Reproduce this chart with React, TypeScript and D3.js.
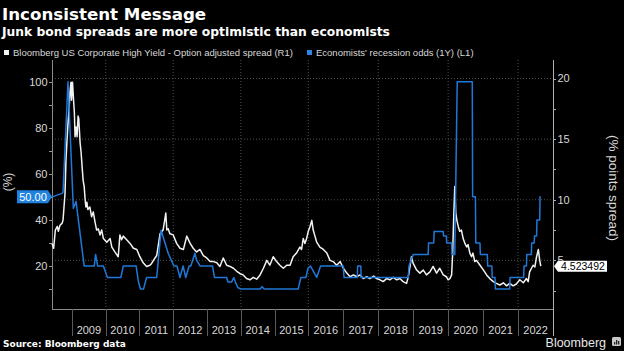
import { useRef, useEffect } from "react";
import { select, scaleLinear, scaleTime, line, range } from "d3";

const WIDTH = 624;
const HEIGHT = 351;
const plot = { left: 52, right: 553, top: 60, bottom: 309 };
const WHITE = "#f2f2f2";
const BLUE = "#1f78d8";
const TEXT = "#d8d8d8";
const FONT = "Liberation Sans, Arial, sans-serif";
const BOLD_FONT = "DejaVu Sans, sans-serif";

const title = "Inconsistent Message";
const subtitle = "Junk bond spreads are more optimistic than economists";
const source = "Source: Bloomberg data";
const seriesNames = [
  "Bloomberg US Corporate High Yield - Option adjusted spread (R1)",
  "Economists' recession odds (1Y) (L1)",
];
const leftLabel = "(%)";
const rightLabel = "(% points spread)";
const years = range(2009, 2023);
const leftTicks = [20, 40, 60, 80, 100];
const leftMinor = range(10, 101, 10);
const rightTicks = [5, 10, 15, 20];
const rightMinor = range(2.5, 20.1, 2.5);
const lastOdds = 50;
const lastSpread = 4.523492;

// HY option adjusted spread, [decimal year, % points]
const spread: [number, number][] = [
  [2008.40, 6.4], [2008.45, 6.0], [2008.50, 7.5], [2008.56, 7.8], [2008.59, 7.4], [2008.64, 7.9],
  [2008.70, 8.05], [2008.73, 8.3], [2008.76, 9.4], [2008.79, 10.5], [2008.82, 13.3], [2008.85, 14.9],
  [2008.88, 16.3], [2008.91, 17.4], [2008.94, 18.9], [2008.97, 19.7], [2008.985, 18.2], [2009.015, 19.7],
  [2009.04, 18.5], [2009.07, 17.2], [2009.09, 15.2], [2009.12, 16.0], [2009.15, 15.2], [2009.18, 16.9],
  [2009.20, 16.7], [2009.24, 14.7], [2009.27, 13.9], [2009.30, 12.7], [2009.33, 11.6], [2009.36, 11.1],
  [2009.39, 10.0], [2009.41, 9.4], [2009.44, 9.8], [2009.47, 9.2], [2009.53, 9.4], [2009.58, 8.6],
  [2009.63, 9.0], [2009.68, 8.2], [2009.73, 7.5], [2009.78, 7.6], [2009.83, 7.1], [2009.88, 7.5],
  [2009.93, 6.8], [2010.03, 6.5], [2010.13, 6.8], [2010.18, 6.1], [2010.27, 5.7], [2010.37, 5.3],
  [2010.42, 7.1], [2010.47, 6.7], [2010.52, 7.0], [2010.62, 6.7], [2010.72, 6.4], [2010.82, 6.0],
  [2010.92, 5.9], [2011.01, 5.3], [2011.11, 4.8], [2011.21, 4.5], [2011.31, 4.6], [2011.36, 4.75],
  [2011.46, 5.2], [2011.51, 5.4], [2011.61, 7.2], [2011.70, 7.5], [2011.78, 8.9], [2011.81, 7.5],
  [2011.85, 7.6], [2011.90, 7.2], [2012.00, 7.1], [2012.10, 6.4], [2012.20, 6.0], [2012.30, 5.9],
  [2012.40, 7.0], [2012.50, 6.4], [2012.59, 6.0], [2012.69, 5.7], [2012.79, 5.9], [2012.89, 5.4],
  [2012.99, 5.2], [2013.09, 4.9], [2013.19, 4.9], [2013.29, 4.8], [2013.38, 4.5], [2013.48, 5.2],
  [2013.58, 4.6], [2013.68, 4.5], [2013.78, 4.35], [2013.88, 4.1], [2013.98, 3.9], [2014.07, 3.8],
  [2014.17, 3.5], [2014.27, 3.4], [2014.37, 3.6], [2014.47, 3.45], [2014.57, 3.8], [2014.67, 4.35],
  [2014.77, 5.0], [2014.86, 4.6], [2014.96, 5.3], [2015.06, 4.9], [2015.16, 4.6], [2015.26, 4.35],
  [2015.36, 4.6], [2015.46, 4.6], [2015.55, 5.3], [2015.65, 5.6], [2015.75, 6.1], [2015.80, 5.9],
  [2015.85, 6.8], [2015.90, 6.4], [2015.95, 6.8], [2016.00, 7.4], [2016.05, 7.8], [2016.10, 8.3],
  [2016.14, 7.5], [2016.19, 7.0], [2016.24, 6.5], [2016.33, 6.1], [2016.43, 5.9], [2016.53, 5.6],
  [2016.62, 5.0], [2016.71, 4.9], [2016.81, 4.6], [2016.91, 4.9], [2017.00, 4.35], [2017.10, 3.95],
  [2017.19, 3.65], [2017.29, 3.8], [2017.38, 3.65], [2017.48, 3.8], [2017.57, 3.5], [2017.67, 3.65],
  [2017.76, 3.5], [2017.87, 3.7], [2017.95, 3.5], [2018.05, 3.4], [2018.14, 3.25], [2018.24, 3.5],
  [2018.33, 3.4], [2018.43, 3.6], [2018.53, 3.4], [2018.62, 3.5], [2018.71, 3.25], [2018.81, 3.1],
  [2018.86, 3.65], [2018.91, 4.5], [2018.95, 5.3], [2019.00, 4.75], [2019.10, 4.2], [2019.19, 3.95],
  [2019.29, 4.2], [2019.38, 3.8], [2019.48, 4.05], [2019.57, 4.5], [2019.67, 3.95], [2019.76, 4.35],
  [2019.86, 3.8], [2019.95, 3.65], [2020.00, 3.4], [2020.05, 3.5], [2020.10, 3.8], [2020.13, 5.6],
  [2020.16, 8.6], [2020.19, 11.1], [2020.22, 8.9], [2020.25, 8.3], [2020.29, 7.8], [2020.33, 7.4],
  [2020.38, 7.5], [2020.43, 6.8], [2020.48, 6.4], [2020.53, 6.1], [2020.57, 6.3], [2020.62, 5.6],
  [2020.67, 5.3], [2020.71, 5.6], [2020.76, 4.9], [2020.81, 5.0], [2020.91, 4.6], [2021.01, 4.2],
  [2021.10, 3.8], [2021.19, 3.5], [2021.29, 3.25], [2021.38, 3.1], [2021.48, 2.97], [2021.58, 3.15],
  [2021.67, 2.9], [2021.76, 3.1], [2021.86, 2.9], [2021.95, 3.05], [2022.05, 3.4], [2022.15, 3.15],
  [2022.24, 3.5], [2022.29, 3.25], [2022.33, 4.05], [2022.43, 4.6], [2022.48, 4.45], [2022.53, 5.3],
  [2022.58, 5.9], [2022.62, 5.0], [2022.65, 4.52],
];

// economists' recession odds, [decimal year, %]
const recessionOdds: [number, number][] = [
  [2008.41, 50], [2008.70, 51.5], [2008.73, 52], [2008.88, 100], [2009.04, 45], [2009.12, 48],
  [2009.36, 20], [2009.66, 20], [2009.70, 25], [2009.76, 20], [2009.93, 20], [2010.05, 15],
  [2010.45, 15], [2010.52, 20], [2010.90, 20], [2010.97, 13], [2011.03, 10], [2011.12, 10],
  [2011.21, 15], [2011.51, 15], [2011.64, 35.5], [2011.85, 25.5], [2012.02, 20], [2012.11, 20],
  [2012.20, 15], [2012.29, 20], [2012.37, 15], [2012.47, 20], [2012.52, 20], [2012.64, 25.5],
  [2012.69, 22.5], [2012.79, 20], [2013.16, 20], [2013.22, 15], [2013.58, 15], [2013.62, 13],
  [2013.73, 13], [2013.79, 15], [2013.84, 13], [2013.92, 10.5], [2014.01, 10], [2014.57, 10],
  [2014.63, 11], [2014.69, 10], [2015.70, 10], [2015.78, 15], [2015.93, 15], [2015.99, 19],
  [2016.06, 20], [2016.15, 17.5], [2016.24, 15], [2016.35, 20], [2017.00, 20], [2017.02, 15],
  [2017.40, 15], [2017.41, 20], [2017.50, 20], [2017.51, 15], [2018.86, 15], [2018.88, 20],
  [2019.00, 25], [2019.43, 25], [2019.44, 30], [2019.59, 30], [2019.60, 35], [2019.86, 35],
  [2019.87, 33], [2019.95, 33], [2019.96, 30], [2020.10, 30], [2020.11, 25], [2020.19, 25],
  [2020.26, 100], [2020.69, 100], [2020.70, 50], [2020.78, 50], [2020.79, 30], [2020.91, 30],
  [2020.92, 25], [2021.12, 25], [2021.13, 20], [2021.25, 20], [2021.26, 15], [2021.34, 15],
  [2021.35, 10], [2021.76, 10], [2021.77, 15], [2022.16, 15], [2022.17, 20], [2022.24, 20],
  [2022.25, 25], [2022.38, 25], [2022.39, 30], [2022.46, 30], [2022.47, 33], [2022.53, 33],
  [2022.54, 40], [2022.62, 40], [2022.63, 50], [2022.65, 50],
];

const toDate = (y: number) => {
  const yr = Math.floor(y);
  const a = new Date(yr, 0, 1).getTime();
  const b = new Date(yr + 1, 0, 1).getTime();
  return new Date(a + (y - yr) * (b - a));
};

function App() {
  const svgRef = useRef<SVGSVGElement>(null);

  useEffect(() => {
    const svg = select(svgRef.current);
    svg.selectAll("*").remove();

    const x = scaleTime()
      .domain([toDate(2008.4), new Date(2009, 0, 1), new Date(2016, 0, 1), new Date(2023, 0, 1)])
      .range([plot.left, 72, 308.3, plot.right]);
    const yLeft = scaleLinear().domain([0, 100]).range([312, 81.7]);
    const yRight = scaleLinear().domain([0, 20]).range([321, 78.5]);

    svg.append("rect").attr("width", WIDTH).attr("height", HEIGHT).attr("fill", "#000");

    // titles
    svg.append("text")
      .attr("x", 2).attr("y", 20)
      .style("font-family", BOLD_FONT).style("font-weight", "bold").style("font-size", "16.7px")
      .attr("fill", "#fff")
      .text(title);
    svg.append("text")
      .attr("x", 2).attr("y", 36)
      .style("font-family", BOLD_FONT).style("font-weight", "bold").style("font-size", "12.3px")
      .attr("fill", "#fff")
      .text(subtitle);

    // legend
    const legend = svg.append("g").style("font-family", FONT).style("font-size", "9.5px");
    const legendX = [4, 307];
    seriesNames.forEach((name, i) => {
      legend.append("rect")
        .attr("x", legendX[i]).attr("y", 50).attr("width", 5).attr("height", 5)
        .attr("fill", i === 0 ? WHITE : "#2a86e6");
      legend.append("text")
        .attr("x", legendX[i] + 9).attr("y", 56)
        .attr("fill", TEXT)
        .text(name);
    });

    // grid
    const grid = svg.append("g").attr("stroke", "#4d4d4d").attr("stroke-dasharray", "1,2");
    grid.selectAll(".h-grid")
      .data(rightTicks)
      .join("line")
      .attr("class", "h-grid")
      .attr("x1", plot.left).attr("x2", plot.right)
      .attr("y1", d => yRight(d)).attr("y2", d => yRight(d));
    grid.selectAll(".v-grid")
      .data(years.filter(y => y % 2 === 0))
      .join("line")
      .attr("class", "v-grid")
      .attr("x1", d => x(new Date(d, 0, 1))).attr("x2", d => x(new Date(d, 0, 1)))
      .attr("y1", plot.top).attr("y2", plot.bottom);

    // axes
    const axes = svg.append("g").attr("stroke-width", 1);
    axes.append("line")
      .attr("x1", plot.left + 0.5).attr("x2", plot.left + 0.5)
      .attr("y1", plot.top).attr("y2", plot.bottom)
      .attr("stroke", "#8a8a8a");
    axes.append("line")
      .attr("x1", plot.left).attr("x2", plot.right)
      .attr("y1", plot.bottom + 0.5).attr("y2", plot.bottom + 0.5)
      .attr("stroke", "#8a8a8a");
    axes.append("line")
      .attr("x1", plot.right + 0.5).attr("x2", plot.right + 0.5)
      .attr("y1", plot.top).attr("y2", 336)
      .attr("stroke", "#b0b0b0");

    // year separators and labels
    axes.selectAll(".sep")
      .data(years)
      .join("line")
      .attr("class", "sep")
      .attr("x1", d => Math.round(x(new Date(d, 0, 1))) + 0.5)
      .attr("x2", d => Math.round(x(new Date(d, 0, 1))) + 0.5)
      .attr("y1", plot.bottom).attr("y2", 336)
      .attr("stroke", "#5a5a5a");
    svg.append("g")
      .style("font-family", FONT).style("font-size", "11px")
      .attr("fill", TEXT).attr("text-anchor", "middle")
      .selectAll("text")
      .data(years)
      .join("text")
      .attr("x", d => (x(new Date(d, 0, 1)) + x(new Date(d + 1, 0, 1))) / 2)
      .attr("y", 334)
      .text(d => d);

    // left ticks
    axes.selectAll(".l-tick")
      .data(leftMinor)
      .join("line")
      .attr("class", "l-tick")
      .attr("x1", plot.left - 3).attr("x2", plot.left)
      .attr("y1", d => Math.round(yLeft(d)) + 0.5).attr("y2", d => Math.round(yLeft(d)) + 0.5)
      .attr("stroke", "#9a9a9a");
    svg.append("g")
      .style("font-family", FONT).style("font-size", "11px")
      .attr("fill", TEXT).attr("text-anchor", "end")
      .selectAll("text")
      .data(leftTicks)
      .join("text")
      .attr("x", 47.5)
      .attr("y", d => yLeft(d))
      .attr("dy", "0.35em")
      .text(d => d);

    // right ticks
    axes.selectAll(".r-tick")
      .data(rightMinor)
      .join("line")
      .attr("class", "r-tick")
      .attr("x1", plot.right).attr("x2", plot.right + 3)
      .attr("y1", d => Math.round(yRight(d)) + 0.5).attr("y2", d => Math.round(yRight(d)) + 0.5)
      .attr("stroke", "#b0b0b0");
    svg.append("g")
      .style("font-family", FONT).style("font-size", "11px")
      .attr("fill", TEXT).attr("text-anchor", "start")
      .selectAll("text")
      .data(rightTicks)
      .join("text")
      .attr("x", 557.5)
      .attr("y", d => yRight(d))
      .attr("dy", "0.35em")
      .text(d => d);

    // axis titles
    svg.append("text")
      .attr("transform", "translate(8, 182) rotate(-90)")
      .attr("text-anchor", "middle").attr("dy", "0.35em")
      .style("font-family", FONT).style("font-size", "12px")
      .attr("fill", TEXT)
      .text(leftLabel);
    svg.append("text")
      .attr("transform", "translate(614, 188) rotate(90)")
      .attr("text-anchor", "middle").attr("dy", "0.35em")
      .style("font-family", FONT).style("font-size", "13.5px")
      .attr("fill", TEXT)
      .text(rightLabel);

    // lines
    const spreadLine = line<[number, number]>()
      .x(d => x(toDate(d[0])))
      .y(d => yRight(d[1]));
    const oddsLine = line<[number, number]>()
      .x(d => x(toDate(d[0])))
      .y(d => yLeft(d[1]));
    svg.append("path")
      .attr("d", spreadLine(spread))
      .attr("fill", "none").attr("stroke", WHITE).attr("stroke-width", 1.5)
      .attr("stroke-linejoin", "round");
    svg.append("path")
      .attr("d", oddsLine(recessionOdds))
      .attr("fill", "none").attr("stroke", BLUE).attr("stroke-width", 1.5)
      .attr("stroke-linejoin", "round");

    // last value tags
    const oy = yLeft(lastOdds);
    svg.append("path")
      .attr("d", `M17,${oy - 6.5}H48L52,${oy}L48,${oy + 6.5}H17Z`)
      .attr("fill", "#1f82e0");
    svg.append("text")
      .attr("x", 33).attr("y", oy).attr("dy", "0.36em")
      .attr("text-anchor", "middle")
      .style("font-family", FONT).style("font-size", "11px")
      .attr("fill", "#fff")
      .text(lastOdds.toFixed(2));
    const sy = yRight(lastSpread);
    svg.append("path")
      .attr("d", `M554,${sy}L558,${sy - 5.5}H607V${sy + 5.5}H558Z`)
      .attr("fill", "#fff");
    svg.append("text")
      .attr("x", 583).attr("y", sy).attr("dy", "0.36em")
      .attr("text-anchor", "middle")
      .style("font-family", FONT).style("font-size", "10.5px")
      .attr("fill", "#000")
      .text(lastSpread);

    // footer
    svg.append("text")
      .attr("x", 3).attr("y", 346.5)
      .style("font-family", BOLD_FONT).style("font-weight", "bold").style("font-size", "9px")
      .attr("fill", "#fff")
      .text(source);
    svg.append("text")
      .attr("x", 606).attr("y", 346.5)
      .attr("text-anchor", "end")
      .style("font-family", FONT).style("font-size", "12.5px")
      .attr("fill", "#e8e8e8")
      .text("Bloomberg");
    const logo = svg.append("g").attr("transform", "translate(612, 337)");
    logo.append("rect").attr("width", 9).attr("height", 9).attr("rx", 1.5).attr("fill", "#c8c8c8");
    logo.append("rect").attr("x", 2).attr("y", 5).attr("width", 1.3).attr("height", 2.5).attr("fill", "#222");
    logo.append("rect").attr("x", 4).attr("y", 3).attr("width", 1.3).attr("height", 4.5).attr("fill", "#222");
    logo.append("rect").attr("x", 6).attr("y", 4).attr("width", 1.3).attr("height", 3.5).attr("fill", "#222");
  }, []);

  return (
    <svg
      ref={svgRef}
      width={WIDTH}
      height={HEIGHT}
      style={{ position: "absolute", left: 0, top: 0, display: "block" }}
    />
  );
}

export default App;
